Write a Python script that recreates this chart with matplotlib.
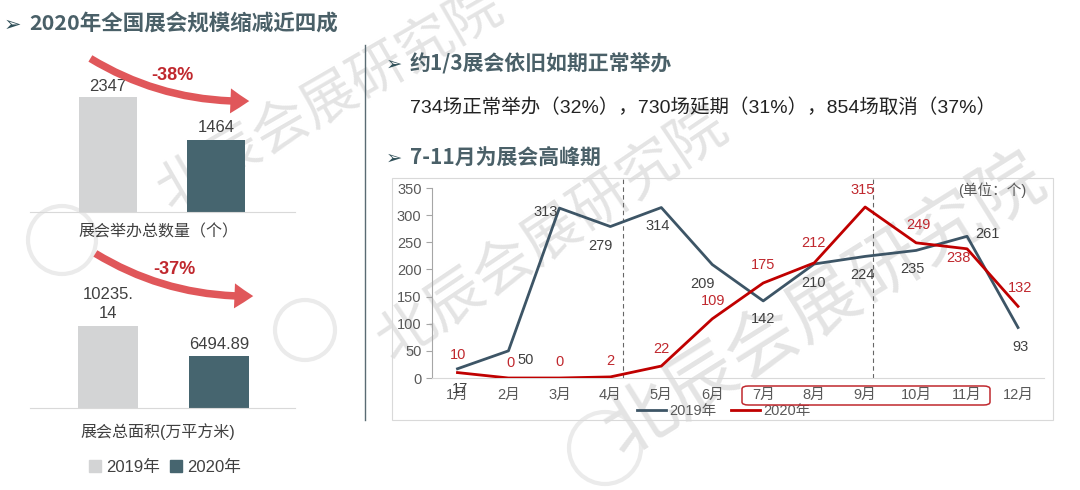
import matplotlib
matplotlib.use("Agg")
import matplotlib.pyplot as plt
from matplotlib.patches import FancyArrowPatch, FancyBboxPatch, Rectangle, Patch, Circle
from matplotlib.lines import Line2D

plt.rcParams['font.family'] = ['Liberation Sans', 'Noto Sans CJK SC', 'DejaVu Sans']

# ---- data ----
years = ['2019年', '2020年']
count = [2347, 1464]
count_labels = ['2347', '1464']
area = [10235.14, 6494.89]
area_labels = ['10235.\n14', '6494.89']
months = ['1月', '2月', '3月', '4月', '5月', '6月', '7月', '8月', '9月', '10月', '11月', '12月']
v2019 = [17, 50, 313, 279, 314, 209, 142, 210, 224, 235, 261, 93]
v2020 = [10, 0, 0, 2, 22, 109, 175, 212, 315, 249, 238, 132]

c19 = '#d3d4d5'
c20 = '#46656f'
line19 = '#3d5566'
line20 = '#c00000'
red_txt = '#c0282e'
head_col = '#4a6068'
cjk = ['Noto Sans CJK SC', 'DejaVu Sans']

W, H = 1080, 490
fig = plt.figure(figsize=(W / 100, H / 100), dpi=100)


def fx(px):
    return px / W


def fy(py):
    return 1 - py / H


def add_ax(x0, y0, x1, y1):
    a = fig.add_axes([fx(x0), fy(y1), (x1 - x0) / W, (y1 - y0) / H])
    a.set_facecolor('none')
    return a


# ---- watermarks ----
for (cx, cy, rot, fs) in [(330, 100, 30, 40), (552, 235, 34, 42), (825, 305, 32, 52)]:
    fig.text(fx(cx), fy(cy), '北辰会展研究院', family=cjk, fontsize=fs, rotation=rot,
             color='#e4e4e4', ha='center', va='center', zorder=-5)
for (cx, cy, r) in [(62, 240, 34), (305, 330, 30), (605, 448, 36)]:
    fig.add_artist(Circle((cx, H - cy), r, transform=None, fill=False,
                          ec='#ebebeb', lw=3, zorder=-5))

# ---- headings ----
fig.text(fx(4), fy(25), '➢', family=['DejaVu Sans'], fontsize=15, color='#2f4f58',
         va='center', ha='left')
fig.text(fx(29), fy(24), '2020年全国展会规模缩减近四成', family=cjk, fontsize=15.5,
         weight='bold', color=head_col, va='center', ha='left')
fig.text(fx(386), fy(64), '➢', family=['DejaVu Sans'], fontsize=14, color='#2f4f58',
         va='center', ha='left')
fig.text(fx(410), fy(63), '约1/3展会依旧如期正常举办', family=cjk, fontsize=15,
         weight='bold', color=head_col, va='center', ha='left')
fig.text(fx(410), fy(108), '734场正常举办（32%），730场延期（31%），854场取消（37%）',
         fontsize=14, color='#222222', va='center', ha='left')
fig.text(fx(386), fy(158), '➢', family=['DejaVu Sans'], fontsize=14, color='#2f4f58',
         va='center', ha='left')
fig.text(fx(410), fy(157), '7-11月为展会高峰期', family=cjk, fontsize=15,
         weight='bold', color=head_col, va='center', ha='left')

# divider
fig.add_artist(Line2D([fx(365), fx(365)], [fy(45), fy(420)], transform=fig.transFigure,
                      color='#5a6b73', lw=1))

# ---- left bar charts ----
def bar_panel(x0, y0, y1, vals, labels, xl, yl, title, ty, pad):
    a = add_ax(x0, y0, 295, y1)
    a.bar([0, 1], vals, width=0.54, color=[c19, c20])
    for i, (v, t) in enumerate(zip(vals, labels)):
        a.annotate(t, (i, v), xytext=(0, pad[i]), textcoords='offset pixels',
                   ha='center', va='bottom', fontsize=12, color='#404040',
                   linespacing=1.3)
    a.set_xlim(*xl)
    a.set_ylim(*yl)
    for s in ['top', 'right', 'left']:
        a.spines[s].set_visible(False)
    a.spines['bottom'].set_color('#d9d9d9')
    a.set_xticks([])
    a.set_yticks([])
    fig.text(fx(158), fy(ty), title, fontsize=11.5, color='#404040', ha='center', va='center')
    return a


bar_panel(30, 60, 212, count, count_labels, (-0.722, 1.731), (0, 3102),
          '展会举办总数量（个）', 232, [3, 5])
bar_panel(30, 258, 408, area, area_labels, (-0.703, 1.685), (0, 18722),
          '展会总面积(万平方米)', 432, [5, 4])

for (a0, a1, tx, ty, t) in [((88, 57), (252, 101), 172, 75, '-38%'),
                            ((93, 252), (256, 296), 174, 270, '-37%')]:
    fig.add_artist(FancyArrowPatch((a0[0], H - a0[1]), (a1[0], H - a1[1]), transform=None,
                                   connectionstyle='arc3,rad=0.15',
                                   arrowstyle='simple,head_length=0.75,head_width=1.0,tail_width=0.3',
                                   mutation_scale=18, color='#e0575a', lw=0))
    fig.text(fx(tx), fy(ty), t, fontsize=13, weight='bold', color=red_txt,
             ha='center', va='center')

fig.legend([Patch(color=c19), Patch(color=c20)], years, loc='center',
           bbox_to_anchor=(fx(165), fy(467)), ncol=2, frameon=False, fontsize=12,
           handlelength=0.7, handleheight=0.7, handletextpad=0.3, columnspacing=0.6,
           labelcolor='#404040')

# ---- line chart ----
fig.add_artist(Rectangle((fx(392), fy(420)), (1053 - 392) / W, (420 - 178) / H,
                         transform=fig.transFigure, fill=False, ec='#d9d9d9', lw=0.8))
ax = add_ax(432, 188, 1043.5, 378)
x = list(range(len(months)))
ax.plot(x, v2019, color=line19, lw=2, label='2019年', zorder=3)
ax.plot(x, v2020, color=line20, lw=2, label='2020年', zorder=3)
ax.set_xlim(-0.5, 11.5)
ax.set_ylim(0, 350)
ax.set_yticks(range(0, 351, 50))
ax.set_xticks(x)
ax.set_xticklabels(months)
ax.tick_params(axis='x', length=0, pad=7, labelsize=10.5, labelcolor='#595959')
ax.tick_params(axis='y', length=4, color='#a6a6a6', labelsize=10.5, labelcolor='#595959')
for s in ['top', 'right']:
    ax.spines[s].set_visible(False)
ax.spines['left'].set_color('#a6a6a6')
ax.spines['bottom'].set_color('#d9d9d9')

for xd in [3.25, 8.15]:
    ax.axvline(xd, ymin=0, ymax=1.05, color='#666666', lw=0.8, ls=(0, (4, 3)), clip_on=False)

off19 = [(3, -20), (17, -9), (-14, -4), (-10, -19), (-4, -18), (-10, -19),
         (0, -18), (-1, -19), (-3, -19), (-4, -19), (20, 2), (2, -19)]
off20 = [(1, 18), (2, 15), (0, 16), (0, 16), (0, 17), (1, 18),
         (0, 18), (-1, 20), (-2, 17), (2, 18), (-9, -9), (2, 18)]
for i in x:
    ax.annotate(str(v2019[i]), (i, v2019[i]), xytext=off19[i], textcoords='offset pixels',
                ha='center', va='center', fontsize=10.5, color='#404040', zorder=4)
    ax.annotate(str(v2020[i]), (i, v2020[i]), xytext=off20[i], textcoords='offset pixels',
                ha='center', va='center', fontsize=10.5, color=red_txt, zorder=4)

fig.text(fx(992), fy(190), '(单位：个)', fontsize=10.5, color='#595959', ha='center', va='center')

fig.add_artist(FancyBboxPatch((fx(742), fy(405)), (990 - 742) / W, (405 - 386) / H,
                              boxstyle='round,pad=0,rounding_size=0.006',
                              transform=fig.transFigure, fill=False, ec='#c0282e', lw=1.1))

ax.legend(loc='center', bbox_to_anchor=(fx(724), fy(411)), bbox_transform=fig.transFigure,
          ncol=2, frameon=False, fontsize=10.5, handlelength=2.0, handletextpad=0.2,
          columnspacing=1.0, labelcolor='#595959')

fig.savefig('out.png', dpi=100)
